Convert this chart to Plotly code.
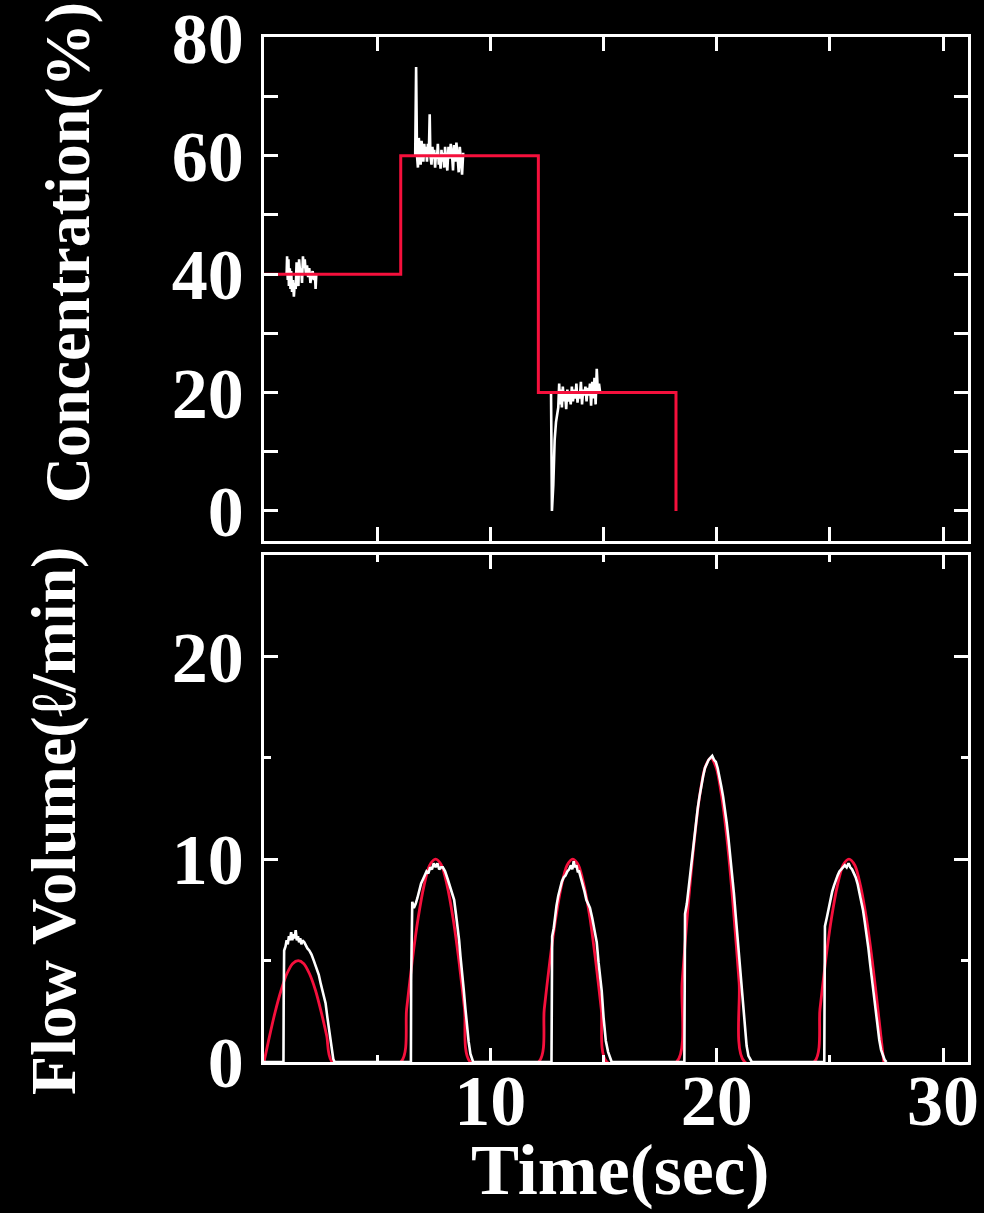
import plotly.graph_objects as go

# ---------------- data ----------------
# Top panel: set concentration (step) and measured concentration
conc_set_t = [0.0, 6.04, 12.12, 18.2]
conc_set_v = [40, 60, 20, 0]

conc_meas1_t = [1.0, 1.02, 1.05, 1.08, 1.1, 1.14, 1.17, 1.2, 1.24, 1.28, 1.32, 1.36, 1.4, 1.44, 1.48,
                1.52, 1.55, 1.6, 1.64, 1.68, 1.72, 1.76, 1.8, 1.85, 1.9, 1.95, 2.0, 2.05, 2.1, 2.15,
                2.2, 2.25, 2.28, 2.31]
conc_meas1_v = [40, 43, 39, 42.5, 38, 41, 37.5, 40.5, 37, 39, 36.2, 38.5, 37.5, 42, 39,
                38, 42.5, 40, 41, 38.5, 43.0, 41, 42.5, 40, 41.5, 39.5, 41, 38.5, 40, 40.5,
                39, 40, 37.5, 40]

conc_meas2_t = [6.68, 6.72, 6.76, 6.8, 6.84, 6.88, 6.92, 6.96, 7.0, 7.04, 7.08, 7.12, 7.16, 7.2, 7.24,
                7.28, 7.32, 7.35, 7.4, 7.44, 7.48, 7.52, 7.56, 7.6, 7.64, 7.68, 7.72, 7.76, 7.8, 7.84,
                7.88, 7.92, 7.96, 8.0, 8.05, 8.1, 8.15, 8.2, 8.25, 8.3, 8.35, 8.4, 8.45, 8.5, 8.55,
                8.6, 8.65, 8.7, 8.75, 8.8]
conc_meas2_v = [60, 75, 60, 58, 63, 61, 58.5, 62.5, 60.5, 59, 62, 60, 61.5, 59, 62,
                60, 67, 60, 58.5, 61.5, 59.5, 61, 58, 60.5, 59.5, 62, 58.5, 60, 57.8, 61,
                59, 60.5, 58, 61.5, 59, 57.5, 61.5, 59.5, 62, 60.5, 57.5, 61.8, 59, 62.2, 60,
                57.2, 61.5, 59.5, 56.8, 60.5]

conc_meas3_t = [12.68, 12.72, 12.78, 12.84, 12.9, 12.96, 13.0, 13.04, 13.08, 13.12, 13.16, 13.2, 13.25,
                13.3, 13.35, 13.4, 13.45, 13.5, 13.55, 13.6, 13.65, 13.7, 13.75, 13.8, 13.85, 13.9,
                13.95, 14.0, 14.05, 14.1, 14.15, 14.2, 14.25, 14.3, 14.35, 14.4, 14.45, 14.5, 14.55,
                14.6, 14.65, 14.7, 14.75, 14.8, 14.85]
conc_meas3_v = [20, 0, 4.4, 12, 15, 16.5, 17.5, 21.5, 18, 20.5, 17.5, 21, 18.5,
                20, 17.2, 20.5, 18.5, 19.8, 18, 21, 18.5, 20.5, 19, 21.5, 18.3, 20,
                19, 21.8, 18, 20.5, 19.5, 21, 18.5, 20.8, 19.5, 21.5, 17.8, 21.8, 19,
                22.5, 18, 24, 20, 21.5, 20]

# Bottom panel: set flow (red) and measured flow (white)
flow_set_t = [0.0, 0.25, 0.5, 0.76, 1.01, 1.26, 1.51, 1.76, 2.01, 2.27, 2.52, 2.77, 3.02,
              6.04, 6.30, 6.55, 6.81, 7.07, 7.32, 7.58, 7.84, 8.09, 8.35, 8.61, 8.86, 9.12,
              12.13, 12.38, 12.63, 12.89, 13.14, 13.39, 13.64, 13.89, 14.14, 14.40, 14.65, 14.90, 15.15,
              18.22, 18.47, 18.72, 18.98, 19.23, 19.48, 19.73, 19.98, 20.23, 20.49, 20.74, 20.99, 21.24,
              24.30, 24.56, 24.81, 25.07, 25.33, 25.58, 25.84, 26.10, 26.35, 26.61, 26.87, 27.12, 27.38]
flow_set_v = [0, 1.3, 2.5, 3.55, 4.35, 4.85, 5.0, 4.85, 4.35, 3.55, 2.5, 1.3, 0,
              0, 2.6, 5.0, 7.1, 8.7, 9.7, 10, 9.7, 8.7, 7.1, 5.0, 2.6, 0,
              0, 2.6, 5.0, 7.1, 8.7, 9.7, 10, 9.7, 8.7, 7.1, 5.0, 2.6, 0,
              0, 3.9, 7.5, 10.6, 13.0, 14.5, 15, 14.5, 13.0, 10.6, 7.5, 3.9, 0,
              0, 2.6, 5.0, 7.1, 8.7, 9.7, 10, 9.7, 8.7, 7.1, 5.0, 2.6, 0]

flow_meas_t = [0.0,
               0.86, 0.87, 0.89, 0.95, 1.0, 1.05, 1.1, 1.15, 1.2, 1.25, 1.3, 1.35, 1.4, 1.45, 1.5, 1.55,
               1.6, 1.65, 1.7, 1.78, 1.85, 1.92, 2.0, 2.1, 2.2, 2.3, 2.42, 2.5, 2.6, 2.72, 2.8, 2.88,
               2.93, 3.0, 3.06, 3.12,
               6.49, 6.50, 6.52, 6.55, 6.62, 6.70, 6.78, 6.86, 6.94, 7.02, 7.1, 7.18, 7.26, 7.34, 7.42,
               7.5, 7.58, 7.66, 7.74, 7.82, 7.9, 8.0, 8.12, 8.2, 8.3, 8.4, 8.48, 8.56, 8.62, 8.68, 8.75,
               8.82, 8.9, 8.97, 9.04, 9.12, 9.2, 9.24,
               12.7, 12.71, 12.73, 12.8, 12.86, 12.92, 13.0, 13.08, 13.16, 13.24, 13.32, 13.4, 13.48,
               13.56, 13.62, 13.68, 13.74, 13.8, 13.86, 13.92, 14.0, 14.08, 14.16, 14.24, 14.32, 14.4,
               14.5, 14.6, 14.7, 14.78, 14.86, 14.92, 15.0, 15.1, 15.2, 15.29, 15.36,
               18.57, 18.58, 18.6, 18.68, 18.76, 18.84, 18.92, 19.0, 19.08, 19.16, 19.24, 19.32, 19.4,
               19.48, 19.56, 19.64, 19.72, 19.8, 19.88, 19.96, 20.04, 20.12, 20.2, 20.28, 20.36, 20.44,
               20.52, 20.6, 20.68, 20.76, 20.84, 20.92, 21.0, 21.08, 21.16, 21.24, 21.32, 21.4, 21.48,
               21.55,
               24.75, 24.76, 24.78, 24.86, 24.94, 25.02, 25.1, 25.18, 25.26, 25.34, 25.42, 25.5, 25.58,
               25.66, 25.74, 25.82, 25.9, 25.98, 26.06, 26.14, 26.22, 26.3, 26.38, 26.46, 26.54, 26.62,
               26.7, 26.78, 26.86, 26.94, 27.02, 27.1, 27.18, 27.26, 27.34, 27.42, 27.5]
flow_meas_v = [0,
               0, 3.0, 5.5, 5.7, 6.0, 5.8, 6.2, 6.0, 6.4, 6.0, 6.3, 6.1, 6.5, 6.0, 6.2, 5.9,
               6.1, 5.8, 6.0, 5.9, 5.7, 5.6, 5.5, 5.3, 5.0, 4.7, 4.3, 3.9, 3.4, 2.9, 2.2, 1.6,
               1.1, 0.5, 0.15, 0,
               0, 4.0, 6.5, 7.9, 7.6, 7.8, 8.1, 8.5, 8.8, 9.0, 9.2, 9.4, 9.3, 9.6, 9.5,
               9.8, 9.6, 9.8, 9.5, 9.6, 9.6, 9.4, 9.0, 8.7, 8.3, 8.0, 7.3, 6.7, 6.0, 5.2, 4.5,
               3.6, 2.6, 1.7, 1.0, 0.4, 0.1, 0,
               0, 3.5, 6.2, 6.6, 7.2, 7.7, 8.2, 8.6, 8.9, 9.1, 9.2, 9.4, 9.5,
               9.7, 9.5, 9.9, 9.6, 9.7, 9.4, 9.4, 9.1, 8.8, 8.4, 8.0, 7.8, 7.6,
               7.1, 6.4, 5.9, 4.9, 4.0, 3.5, 2.2, 1.05, 0.5, 0.2, 0,
               0, 4.0, 7.3, 7.8, 8.6, 9.6, 10.4, 11.0, 11.8, 12.5, 13.1, 13.7, 14.1,
               14.5, 14.7, 14.9, 15.0, 15.1, 14.9, 14.8, 14.5, 14.1, 13.6, 13.1, 12.5, 11.8,
               11.0, 10.2, 9.3, 8.3, 7.2, 6.1, 4.9, 3.8, 2.7, 1.6, 0.8, 0.3, 0.1,
               0,
               0, 4.0, 6.7, 7.1, 7.6, 8.0, 8.4, 8.7, 9.0, 9.2, 9.4, 9.5, 9.6,
               9.7, 9.6, 9.8, 9.6, 9.5, 9.3, 9.1, 8.8, 8.4, 8.0, 7.5, 6.9, 6.3,
               5.6, 4.8, 4.0, 3.2, 2.4, 1.7, 1.1, 0.6, 0.3, 0.1, 0]

x_range = [0, 31.1]
x_tickvals = [0, 10, 20, 30]
x_ticktext = ["", "10", "20", "30"]
conc_range = [-5.07, 80.05]
flow_range = [0, 25]

# ---------------- styling ----------------
WHITE = "white"
RED = "#f5103c"
FONT = "Liberation Serif"

fig = go.Figure()

# top panel: measured (white) under set (red)
for tt, vv in [(conc_meas1_t, conc_meas1_v), (conc_meas2_t, conc_meas2_v), (conc_meas3_t, conc_meas3_v)]:
    fig.add_trace(go.Scatter(x=tt, y=vv, mode="lines", line=dict(color=WHITE, width=2.6),
                             xaxis="x", yaxis="y", showlegend=False))
fig.add_trace(go.Scatter(x=conc_set_t, y=conc_set_v, mode="lines", line=dict(color=RED, width=3, shape="hv"),
                         xaxis="x", yaxis="y", showlegend=False))

# bottom panel: set (red) under measured (white)
fig.add_trace(go.Scatter(x=flow_set_t, y=flow_set_v, mode="lines",
                         line=dict(color=RED, width=2.8, shape="spline", smoothing=0.8),
                         xaxis="x2", yaxis="y2", showlegend=False))
fig.add_trace(go.Scatter(x=flow_meas_t, y=flow_meas_v, mode="lines", line=dict(color=WHITE, width=2.6),
                         xaxis="x2", yaxis="y2", showlegend=False))

common = dict(showline=True, linecolor=WHITE, linewidth=2.5, mirror="allticks",
              ticks="inside", tickcolor=WHITE, tickwidth=2.5, showgrid=False, zeroline=False,
              automargin=False, ticklabeloverflow="allow",
              tickfont=dict(family=FONT, size=72, color=WHITE, weight="bold"))

fig.update_layout(
    width=984, height=1213,
    paper_bgcolor="black", plot_bgcolor="black",
    margin=dict(l=264, r=16, t=37, b=151, autoexpand=False),
    xaxis=dict(domain=[0, 1], anchor="y", range=x_range, tick0=0, dtick=10, ticklen=14,
               minor=dict(tickmode="linear", tick0=0, dtick=5, ticklen=14, tickwidth=2.5,
                          tickcolor=WHITE, ticks="inside"),
               showticklabels=False, **common),
    yaxis=dict(domain=[0.5083, 1], anchor="x", range=conc_range, tick0=0, dtick=20, ticklen=14,
               minor=dict(tickmode="linear", tick0=0, dtick=10, ticklen=14, tickwidth=2.5,
                          tickcolor=WHITE, ticks="inside"),
               ticklabelstandoff=3, **common),
    xaxis2=dict(domain=[0, 1], anchor="y2", range=x_range, tickmode="array",
                tickvals=x_tickvals, ticktext=x_ticktext, ticklen=14,
                minor=dict(tickmode="linear", tick0=0, dtick=5, ticklen=7, tickwidth=2.5,
                           tickcolor=WHITE, ticks="inside"),
                ticklabelstandoff=-26, **common),
    yaxis2=dict(domain=[0, 0.4946], anchor="x2", range=flow_range, tick0=0, dtick=10, ticklen=14,
                minor=dict(tickmode="linear", tick0=0, dtick=5, ticklen=7, tickwidth=2.5,
                           tickcolor=WHITE, ticks="inside"),
                ticklabelstandoff=3, **common),
    annotations=[
        dict(text="Concentration(%)", xref="paper", yref="paper", x=-0.2798, y=0.789,
             xanchor="center", yanchor="middle", textangle=-90, showarrow=False,
             font=dict(family=FONT, size=64, color=WHITE, weight="bold")),
        dict(text="Flow Volume(ℓ/min)", xref="paper", yref="paper", x=-0.2997, y=0.2351,
             xanchor="center", yanchor="middle", textangle=-90, showarrow=False,
             font=dict(family=FONT, size=64, color=WHITE, weight="bold")),
        dict(text="Time(sec)", xref="paper", yref="paper", x=0.507, y=-0.1055,
             xanchor="center", yanchor="middle", showarrow=False,
             font=dict(family=FONT, size=72, color=WHITE, weight="bold")),
    ],
)

fig.write_html(
    "out.html",
    config={"displayModeBar": False},
    post_script="document.body.style.margin='0';document.body.style.background='black';"
                "document.documentElement.style.background='black';",
)
